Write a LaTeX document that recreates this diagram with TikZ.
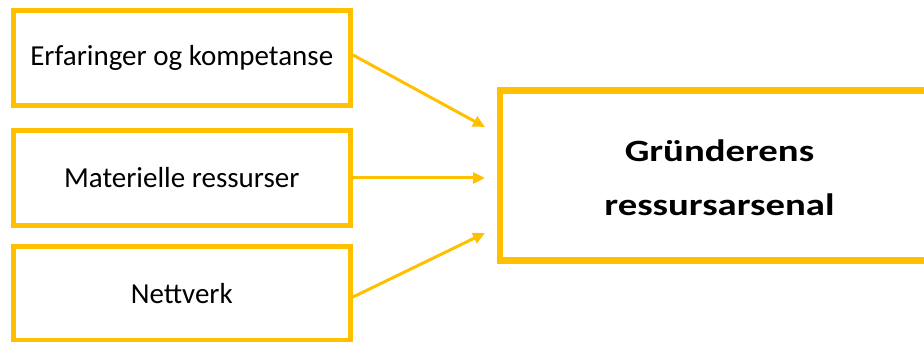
\documentclass[tikz,border=0pt]{standalone}
\usepackage{fontspec}
\setmainfont{Carlito}
\usetikzlibrary{arrows.meta}
\definecolor{gold}{HTML}{FFC000}
\tikzset{
  srcbox/.style={draw=gold, line width=5pt, fill=white, minimum width=337.5pt, minimum height=95pt, inner sep=0pt, font=\fontsize{29}{34}\selectfont},
  bigbox/.style={draw=gold, line width=6.5pt, fill=white, minimum width=439pt, minimum height=170pt, inner sep=0pt},
  bigtext/.style={align=center, inner sep=0pt, font=\fontsize{31}{54}\selectfont\bfseries, xscale=1.25},
  link/.style={draw=gold, line width=3pt, -{Triangle[length=12pt,width=11pt]}}
}
\begin{document}
\begin{tikzpicture}[x=1pt,y=-1pt]
\useasboundingbox (0,0) rectangle (924,342);
\node[srcbox] (a) at (181.75,57.75) {Erfaringer og kompetanse};
\node[srcbox] (b) at (181.75,178) {Materielle ressurser};
\node[srcbox, minimum height=94pt] (c) at (181.75,293.5) {Nettverk};
\node[bigbox] (d) at (719.5,175.5) {};
\node[bigtext] (dt) at (719.5,178) {Gründerens\\ressursarsenal};
\coordinate (ta) at (485,127);
\coordinate (tb) at (485,178);
\coordinate (tc) at (485,233);
\draw[link] (a.east) ++(0,-2.75) -- (ta);
\draw[link] (b.east) -- (tb);
\draw[link] (c.east) ++(0,3.5) -- (tc);
\end{tikzpicture}
\end{document}
